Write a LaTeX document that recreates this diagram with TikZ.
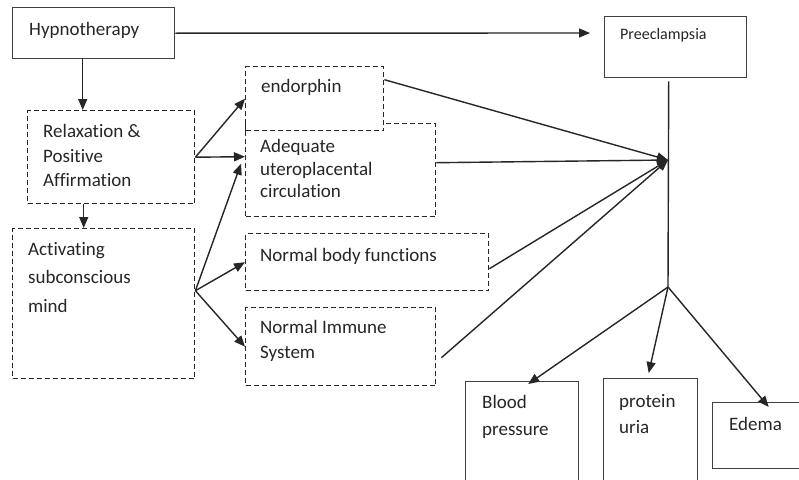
\documentclass[tikz,border=0pt]{standalone}
\usepackage{fontspec}
\setmainfont{Carlito}[Ligatures=NoCommon]
\usetikzlibrary{arrows.meta}
\begin{document}
\begin{tikzpicture}[x=1pt,y=-1pt,
  box/.style={draw=black!75, line width=1.4pt, inner sep=0, anchor=north west, fill=white},
  dbox/.style={box, draw=black!85, dash pattern=on 5pt off 3pt},
  txt/.style={anchor=base west, inner sep=0, text=black!85, font=\fontsize{19}{23}\selectfont},
  stxt/.style={txt, font=\fontsize{16}{20}\selectfont},
  arr/.style={draw=black!85, line width=1.4pt, -{Triangle[length=11pt,width=9pt]}},
  ln/.style={draw=black!85, line width=1.4pt}]
\clip (0,0) rectangle (799,479);
\fill[white] (0,0) rectangle (799,479);
% boxes
\node[box, minimum width=162pt, minimum height=51pt] (hyp) at (12,7) {};
\node[box, minimum width=142pt, minimum height=61pt] (pre) at (604,16) {};
\node[dbox, minimum width=167pt, minimum height=93pt] (rel) at (27,110) {};
\node[dbox, minimum width=182pt, minimum height=150pt] (act) at (12,228) {};
\node[dbox, minimum width=190pt, minimum height=93pt] (ade) at (245,123) {};
\node[dbox, minimum width=138pt, minimum height=64pt] (end) at (245,66) {};
\node[dbox, minimum width=243pt, minimum height=57pt] (nbf) at (245,233) {};
\node[dbox, minimum width=190pt, minimum height=78pt] (nis) at (245,307) {};
\node[box, minimum width=113pt, minimum height=119pt] (bp) at (465,381) {};
\node[box, minimum width=94pt, minimum height=122pt] (pu) at (603,378) {};
\node[box, minimum width=98pt, minimum height=66pt] (ed) at (712,402) {};
% texts
\node[txt] (t1) at (29,35) {Hypnotherapy};
\node[stxt] (t2) at (620,39) {Preeclampsia};
\node[txt] (t3) at (261,92) {endorphin};
\node[txt] (t4a) at (260,152) {Adequate};
\node[txt] (t4b) at (260,175) {uteroplacental};
\node[txt] (t4c) at (260,197) {circulation};
\node[txt] (t5a) at (43,137) {Relaxation \&};
\node[txt] (t5b) at (43,162) {Positive};
\node[txt] (t5c) at (43,186) {Affirmation};
\node[txt] (t6a) at (28,255) {Activating};
\node[txt] (t6b) at (28,283) {subconscious};
\node[txt] (t6c) at (28,312) {mind};
\node[txt] (t7) at (260,261) {Normal body functions};
\node[txt] (t8a) at (260,333) {Normal Immune};
\node[txt] (t8b) at (260,358) {System};
\node[txt] (t9a) at (482,408) {Blood};
\node[txt] (t9b) at (482,435) {pressure};
\node[txt] (t10a) at (619,407) {protein};
\node[txt] (t10b) at (619,433) {uria};
\node[txt] (t11) at (729,430) {Edema};
% coordinates
\coordinate (preIn) at (590,33);
\coordinate (conv) at (668,160);
\coordinate (branch) at (668,287);
% connectors
\draw[arr] (hyp.east) -- (preIn);
\draw[arr] ([xshift=-11pt]hyp.south) -- ([xshift=-28.5pt]rel.north);
\draw[arr] ([xshift=-27.5pt]rel.south) -- ([xshift=-20pt]act.north);
\draw[arr] (rel.east) -- (end.west);
\draw[arr] (rel.east) -- ([yshift=13.5pt]ade.west);
\draw[arr] ([yshift=13pt]act.east) -- ([yshift=6.5pt,xshift=-4pt]ade.west);
\draw[arr] ([yshift=13pt]act.east) -- (nbf.west);
\draw[arr] ([yshift=13pt]act.east) -- (nis.west);
\draw[arr] ([yshift=19pt]end.east) -- (conv);
\draw[arr] ([yshift=7.5pt]ade.east) -- (conv);
\draw[arr] ([yshift=-6.5pt]nbf.east) -- (conv);
\draw[arr] ([yshift=-11pt,xshift=5pt]nis.east) -- (conv);
\draw[ln] ([xshift=-7pt,yshift=-3pt]pre.south) -- (branch);
\draw[arr] (branch) -- ([xshift=6pt,yshift=-3pt]bp.north);
\draw[arr] (branch) -- ([xshift=-2pt,yshift=5pt]pu.north);
\draw[arr] (branch) -- ([xshift=7pt,yshift=-5pt]ed.north);
\end{tikzpicture}
\end{document}
